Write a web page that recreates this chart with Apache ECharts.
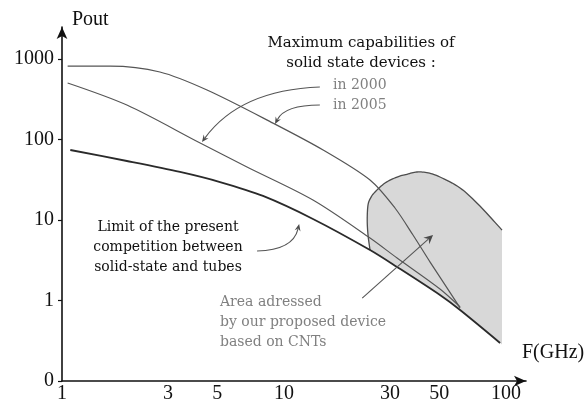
<!DOCTYPE html>
<html>
<head>
<meta charset="utf-8">
<script src="https://cdn.jsdelivr.net/npm/echarts@6/dist/echarts.min.js"></script>
<style>
  html, body { margin: 0; padding: 0; background: #fff; }
  #chart { width: 588px; height: 409px; }
</style>
</head>
<body>
<div id="chart"></div>
<script>
// Tick labels
const xTicks = [1, 3, 5, 10, 30, 50, 100];
const yTicks = [0.1, 1, 10, 100, 1000];

// Maximum solid-state capabilities, 2005 (upper curve)
const freq2005 = [1.06, 1.65, 2.76, 4.50, 8.92, 15.0, 24.4, 31.6, 38.1, 45.5, 62.1];
const pout2005 = [818, 818, 690, 412, 160, 74.1, 31.4, 14.1, 6.51, 3.0, 0.81];

// Maximum solid-state capabilities, 2000 (middle curve)
const freq2000 = [1.06, 1.96, 4.19, 6.81, 13.5, 24.4, 32.3, 50.4, 62.1];
const pout2000 = [504, 268, 90.5, 45.5, 17.7, 5.97, 3.37, 1.39, 0.83];

// Limit of the competition between solid-state and tubes
const freqLimit = [1.09, 1.96, 3.40, 5.15, 8.04, 13.5, 24.4, 32.3, 50.4, 62.1, 94.0];
const poutLimit = [74.1, 54.1, 39.5, 29.6, 19.9, 10.3, 4.24, 2.61, 1.17, 0.762, 0.297];

// CNT device area: curved outer edge (left, top, right shoulder)
const freqAreaEdge = [24.4, 23.9, 23.7, 23.9, 24.6, 25.7, 28.5, 32.3, 35.8, 39.7, 44.6, 50.4, 62.1, 76.3, 95.9];
const poutAreaEdge = [4.24, 6.5, 10, 15.4, 19.0, 22.3, 28.8, 34.2, 37.0, 39.5, 38.5, 34.2, 25.0, 14.9, 7.5];
// lower boundary of the area, following the limit curve back to the left edge
const freqAreaBase = [95.9, 94.0, 62.1, 50.4, 32.3];
const poutAreaBase = [0.285, 0.297, 0.762, 1.17, 2.61];

// Annotation pointers (F, Pout): tail, bend, head
const pointers = [
  { from: [14.5, 449], ctrl: [6.34, 412], to: [4.27, 93.1], head: 7, width: 3 },
  { from: [14.5, 268], ctrl: [10.1, 268], to: [9.11, 156], head: 7, width: 3 },
  { from: [7.56, 4.12], ctrl: [10.98, 4.24], to: [11.7, 8.91], head: 7, width: 3 },
  { from: [22.5, 1.07], ctrl: null, to: [46.9, 6.51], head: 9, width: 4.5 }
];

const pairs = (xs, ys) => xs.map((x, i) => [x, ys[i]]);

function catmullRom(pts, steps) {
  const out = [];
  const n = pts.length;
  for (let i = 0; i < n - 1; i++) {
    const p0 = pts[Math.max(i - 1, 0)], p1 = pts[i], p2 = pts[i + 1], p3 = pts[Math.min(i + 2, n - 1)];
    for (let s = 0; s < steps; s++) {
      const t = s / steps, t2 = t * t, t3 = t2 * t;
      const f = (a, b, c, d) => 0.5 * ((2 * b) + (-a + c) * t + (2 * a - 5 * b + 4 * c - d) * t2 + (-a + 3 * b - 3 * c + d) * t3);
      out.push([f(p0[0], p1[0], p2[0], p3[0]), f(p0[1], p1[1], p2[1], p3[1])]);
    }
  }
  out.push(pts[n - 1].slice());
  return out;
}

const chart = echarts.init(document.getElementById('chart'));

const serifTick = 'Liberation Serif';

chart.setOption({
  animation: false,
  backgroundColor: '#fff',
  grid: { left: 62, right: 62, top: 27, bottom: 28 },
  xAxis: {
    type: 'log',
    logBase: 10,
    min: 1,
    max: 123,
    axisLine: {
      show: true, onZero: false,
      lineStyle: { color: '#111', width: 1.6 },
      symbol: ['none', 'arrow'], symbolSize: [8, 12]
    },
    axisTick: { show: false },
    splitLine: { show: false },
    minorTick: { show: false },
    axisLabel: {
      customValues: xTicks,
      formatter: v => String(Math.round(v)),
      color: '#111', fontFamily: serifTick, fontSize: 20, margin: 3
    },
    name: 'F(GHz)',
    nameLocation: 'end',
    nameGap: -4,
    nameTextStyle: {
      color: '#111', fontFamily: serifTick, fontSize: 20,
      align: 'left', verticalAlign: 'bottom', padding: [0, 0, 18, 0]
    }
  },
  yAxis: {
    type: 'log',
    logBase: 10,
    min: 0.1,
    max: 2500,
    axisLine: {
      show: true, onZero: false,
      lineStyle: { color: '#111', width: 1.6 },
      symbol: ['none', 'arrow'], symbolSize: [8, 12]
    },
    axisTick: { show: true, length: 4, customValues: yTicks, lineStyle: { color: '#111', width: 1.2 } },
    splitLine: { show: false },
    minorTick: { show: false },
    axisLabel: {
      customValues: yTicks,
      formatter: v => (v < 1 ? '0' : String(Math.round(v))),
      color: '#111', fontFamily: serifTick, fontSize: 20, margin: 8
    },
    name: 'Pout',
    nameLocation: 'end',
    nameGap: 7,
    nameTextStyle: {
      color: '#111', fontFamily: serifTick, fontSize: 20,
      align: 'left', verticalAlign: 'middle', padding: [0, 0, 0, 10]
    }
  },
  series: [
    {
      // shaded CNT area
      type: 'custom',
      z: 1,
      silent: true,
      data: [[1, 1]],
      renderItem: (params, api) => {
        const edgePx = catmullRom(pairs(freqAreaEdge, poutAreaEdge).map(p => api.coord(p)), 8);
        const basePx = pairs(freqAreaBase, poutAreaBase).map(p => api.coord(p));
        return {
          type: 'group',
          children: [
            { type: 'polygon', shape: { points: edgePx.concat(basePx) }, style: { fill: '#d8d8d8', stroke: null } },
            { type: 'polyline', shape: { points: edgePx }, style: { fill: null, stroke: '#4d4d4d', lineWidth: 1.3 } }
          ]
        };
      }
    },
    {
      name: '2005', type: 'line', z: 3, symbol: 'none', smooth: 0.3,
      lineStyle: { color: '#555', width: 1.2 },
      data: pairs(freq2005, pout2005)
    },
    {
      name: '2000', type: 'line', z: 3, symbol: 'none', smooth: 0.3,
      lineStyle: { color: '#555', width: 1.1 },
      data: pairs(freq2000, pout2000)
    },
    {
      name: 'limit', type: 'line', z: 3, symbol: 'none', smooth: 0.3,
      lineStyle: { color: '#2a2a2a', width: 1.8 },
      data: pairs(freqLimit, poutLimit)
    },
    {
      // annotation pointers
      type: 'custom',
      z: 4,
      silent: true,
      data: [[1, 1]],
      renderItem: (params, api) => {
        const children = [];
        pointers.forEach(p => {
          const a = api.coord(p.from);
          const b = api.coord(p.to);
          const c = p.ctrl ? api.coord(p.ctrl) : null;
          const ref = c || a;
          let dx = b[0] - ref[0], dy = b[1] - ref[1];
          const len = Math.hypot(dx, dy);
          dx /= len; dy /= len;
          const nx = -dy, ny = dx;
          const base = [b[0] - dx * p.head, b[1] - dy * p.head];
          const lineEnd = [b[0] - dx * p.head * 0.7, b[1] - dy * p.head * 0.7];
          if (c) {
            children.push({
              type: 'bezierCurve',
              shape: { x1: a[0], y1: a[1], cpx1: c[0], cpy1: c[1], x2: lineEnd[0], y2: lineEnd[1] },
              style: { fill: null, stroke: '#555', lineWidth: 1.1 }
            });
          } else {
            children.push({
              type: 'line',
              shape: { x1: a[0], y1: a[1], x2: lineEnd[0], y2: lineEnd[1] },
              style: { stroke: '#555', lineWidth: 1.1 }
            });
          }
          children.push({
            type: 'polygon',
            shape: { points: [b, [base[0] + nx * p.width, base[1] + ny * p.width], [b[0] - dx * p.head * 0.65, b[1] - dy * p.head * 0.65], [base[0] - nx * p.width, base[1] - ny * p.width]] },
            style: { fill: '#4a4a4a', stroke: null }
          });
        });
        return { type: 'group', children };
      }
    }
  ],
  graphic: [
    {
      type: 'text', x: 361, y: 33, z: 10,
      style: {
        text: 'Maximum capabilities of\nsolid state devices :',
        font: '15px "DejaVu Serif"', fill: '#111',
        align: 'center', verticalAlign: 'top', lineHeight: 20
      }
    },
    {
      type: 'text', x: 333, y: 75, z: 10,
      style: {
        text: 'in 2000\nin 2005',
        font: '14px "DejaVu Serif"', fill: '#808080',
        align: 'left', verticalAlign: 'top', lineHeight: 20
      }
    },
    {
      type: 'text', x: 168, y: 217, z: 10,
      style: {
        text: 'Limit of the present\ncompetition between\nsolid-state and tubes',
        font: '14px "DejaVu Serif"', fill: '#111',
        align: 'center', verticalAlign: 'top', lineHeight: 20
      }
    },
    {
      type: 'text', x: 220, y: 292, z: 10,
      style: {
        text: 'Area adressed\nby our proposed device\nbased on CNTs',
        font: '14px "DejaVu Serif"', fill: '#808080',
        align: 'left', verticalAlign: 'top', lineHeight: 20
      }
    }
  ]
});
</script>
</body>
</html>
